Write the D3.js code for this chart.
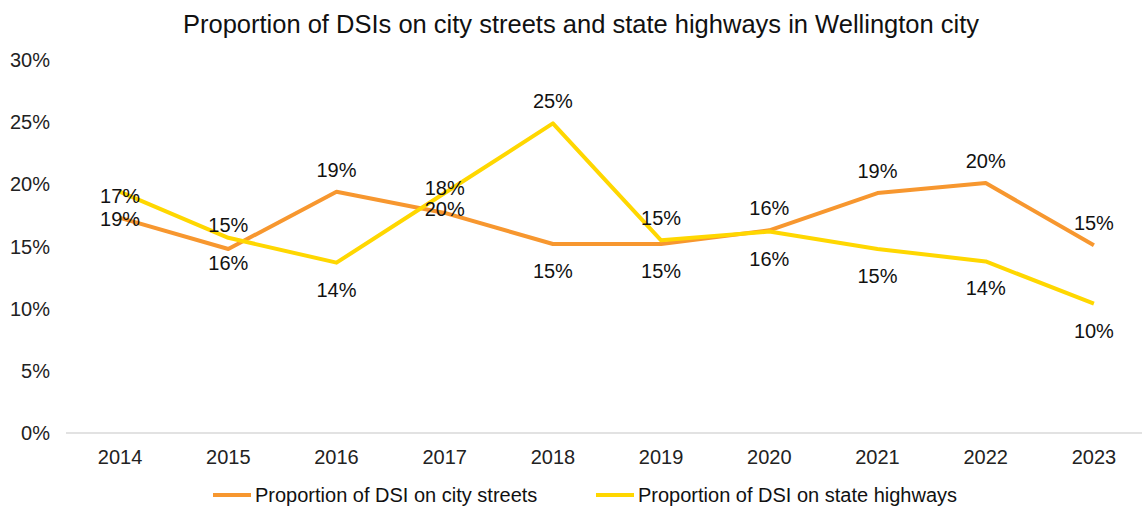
<!DOCTYPE html>
<html lang="en">
<head>
    <meta charset="utf-8">
    <script src="https://d3js.org/d3.v7.min.js"></script>
    <style>
        body { margin: 0; background: #fff; }
        svg { font-family: "Liberation Sans", Arial, sans-serif; }
    </style>
</head>
<body>
    <div id="chart"></div>
    <script>
        // data
        var years = ["2014", "2015", "2016", "2017", "2018", "2019", "2020", "2021", "2022", "2023"];
        var cityStreets = [17.3, 14.8, 19.4, 17.7, 15.2, 15.2, 16.3, 19.3, 20.1, 15.1];
        var stateHighways = [19.4, 15.7, 13.7, 19.3, 24.9, 15.5, 16.2, 14.8, 13.8, 10.4];
        var cityLabels = ["19%", "16%", "19%", "20%", "15%", "15%", "16%", "19%", "20%", "15%"];
        var highwayLabels = ["17%", "15%", "14%", "18%", "25%", "15%", "16%", "15%", "14%", "10%"];
        var yTicks = [0, 5, 10, 15, 20, 25, 30];

        var series = [
            { name: "Proportion of DSI on city streets", values: cityStreets, labels: cityLabels, color: "#F7972F" },
            { name: "Proportion of DSI on state highways", values: stateHighways, labels: highwayLabels, color: "#FFD700" }
        ];

        var W = 1142, H = 508;
        var svg = d3.select("#chart").append("svg")
            .attr("width", W).attr("height", H);

        var x = d3.scalePoint().domain(years).range([66, 1148]).padding(0.5);
        var y = d3.scaleLinear().domain([0, 30]).range([433, 60]);

        // title
        svg.append("text")
            .attr("x", 581).attr("y", 24)
            .attr("dy", "0.35em")
            .attr("text-anchor", "middle")
            .style("font-size", "25.5px").style("fill", "#111")
            .text("Proportion of DSIs on city streets and state highways in Wellington city");

        // y axis labels (no gridlines)
        svg.append("g").selectAll("text").data(yTicks).enter().append("text")
            .attr("x", 50).attr("y", function (d) { return y(d); })
            .attr("dy", "0.35em")
            .attr("text-anchor", "end")
            .style("font-size", "20px").style("fill", "#222")
            .text(function (d) { return d + "%"; });

        // x axis line
        svg.append("line")
            .attr("x1", 66).attr("x2", 1142)
            .attr("y1", y(0)).attr("y2", y(0))
            .attr("stroke", "#d9d9d9").attr("stroke-width", 1.5);

        svg.append("g").selectAll("text").data(years).enter().append("text")
            .attr("x", function (d) { return x(d); }).attr("y", 457)
            .attr("dy", "0.35em")
            .attr("text-anchor", "middle")
            .style("font-size", "20px").style("fill", "#222")
            .text(function (d) { return d; });

        var line = d3.line()
            .x(function (d, i) { return x(years[i]); })
            .y(function (d) { return y(d); });

        series.forEach(function (s) {
            svg.append("path")
                .datum(s.values)
                .attr("fill", "none")
                .attr("stroke", s.color)
                .attr("stroke-width", 4)
                .attr("stroke-linejoin", "round")
                .attr("d", line);
        });

        // data labels: label of the higher series goes above, lower one below
        // a few years were moved by hand in the original
        var labelShift = { "2014": [4, 1], "2015": [-13, 14], "2017": [-5, -4] };
        years.forEach(function (yr, i) {
            var a = series[0], b = series[1];
            var top = a.values[i] >= b.values[i] ? a : b;
            var bottom = top === a ? b : a;
            var sh = labelShift[yr] || [-22, 27];
            [[top, sh[0]], [bottom, sh[1]]].forEach(function (p) {
                svg.append("text")
                    .attr("x", x(yr))
                    .attr("y", y(p[0].values[i]) + p[1])
                    .attr("dy", "0.35em")
                    .attr("text-anchor", "middle")
                    .style("font-size", "20px").style("fill", "#111")
                    .text(p[0].labels[i]);
            });
        });

        // legend
        var legendX = [213, 596];
        var legend = svg.append("g").selectAll("g").data(series).enter().append("g")
            .attr("transform", function (d, i) { return "translate(" + legendX[i] + ",495)"; });
        legend.append("line")
            .attr("x1", 0).attr("x2", 38)
            .attr("stroke", function (d) { return d.color; })
            .attr("stroke-width", 4);
        legend.append("text")
            .attr("x", 42).attr("dy", "0.35em")
            .style("font-size", "20px").style("fill", "#111")
            .text(function (d) { return d.name; });
    </script>
</body>
</html>
